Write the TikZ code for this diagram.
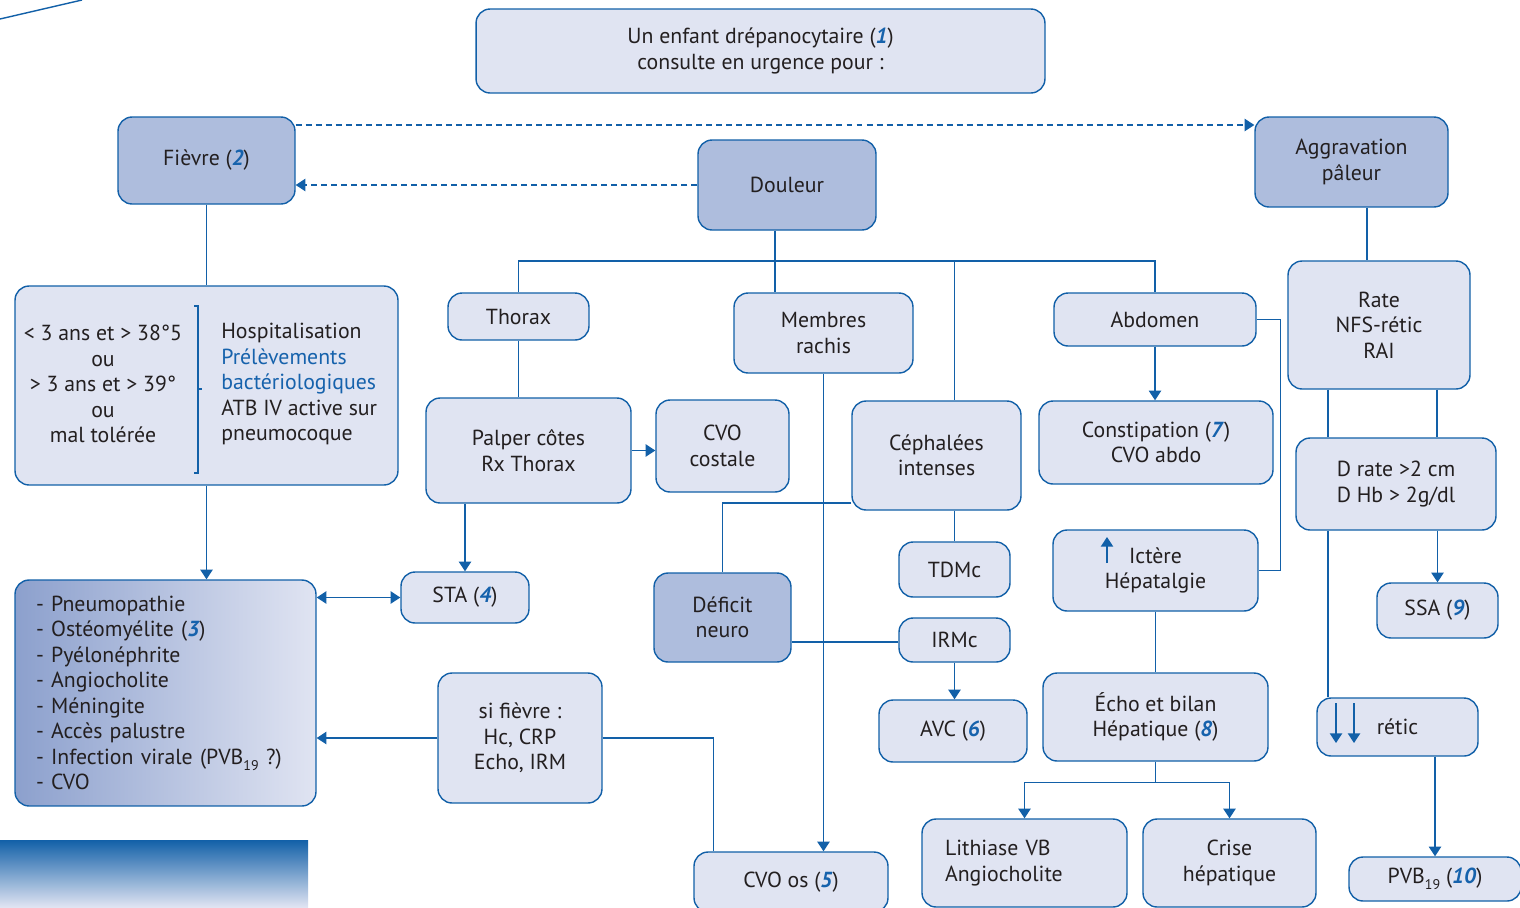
\documentclass[tikz,border=0pt]{standalone}
\usepackage{fontspec}
\setmainfont{PT Sans}
\usepackage{xcolor}
\usetikzlibrary{arrows.meta,calc,positioning}
\definecolor{lineblue}{RGB}{18,96,168}
\definecolor{lightfill}{RGB}{224,228,242}
\definecolor{darkfill}{RGB}{174,189,221}
\definecolor{gradL}{RGB}{140,160,205}
\definecolor{gradM}{RGB}{204,213,236}
\definecolor{textcol}{RGB}{35,31,32}
\definecolor{numblue}{RGB}{22,98,172}
\newcommand{\refn}[1]{\textcolor{numblue}{\textbf{\textit{#1}}}}
\newcommand{\lowsub}[1]{\raisebox{-0.55ex}{\fontsize{8}{8}\selectfont #1}}
\tikzset{
  >={Triangle[length=5.5pt,width=7pt]},
  box/.style  ={rectangle, rounded corners=8pt, draw=lineblue, line width=0.8pt,
                fill=lightfill, text=textcol, align=center, inner sep=2pt,
                font=\fontsize{12.4}{14.5}\selectfont},
  hub/.style  ={box, fill=darkfill},
  wh/.style 2 args={minimum width=#1cm, minimum height=#2cm},
  txt/.style  ={text=textcol, inner sep=0pt, align=left,
                font=\fontsize{12.4}{14.5}\selectfont},
  con/.style  ={draw, color=lineblue, line width=0.8pt},
  arr/.style  ={->, con},
  dsh/.style  ={->, con, dash pattern=on 3.4pt off 2.3pt},
}
\begin{document}
\begin{tikzpicture}[x=0.02cm, y=-0.02cm]
\clip (0,0) rectangle (1520,907);
\fill[white] (0,0) rectangle (1520,907);
\draw[con] (0,19) -- (82,0);
\shade[top color=lineblue, bottom color=lightfill] (0,840) rectangle (308,907);

% top row
\node[box, wh={11.38}{1.68}] (enfant) at (760.5,51)
  {Un enfant drépanocytaire (\refn{1})\\consulte en urgence pour :};
\node[hub, wh={3.54}{1.74}] (fievre)  at (206.5,160.5) {Fièvre (\refn{2})};
\node[hub, wh={3.56}{1.80}] (douleur) at (787,185)     {Douleur};
\node[hub, wh={3.86}{1.80}] (aggrav)  at (1351.5,162)  {Aggravation\\pâleur};

% fievre branch
\node[box, wh={7.66}{3.98}] (crit) at (206.5,385.5) {};
\node[txt, align=center] (critL) at (103,384)
  {< 3 ans et > 38°5\\ou\\> 3 ans et > 39°\\ou\\mal tolérée};
\node[txt, anchor=west] (critR) at (221,384)
  {Hospitalisation\\\textcolor{numblue}{Prélèvements}\\\textcolor{numblue}{bactériologiques}\\ATB IV active sur\\pneumocoque};
\draw[con, line width=0.6pt] (194,306) -- (198,306) -- (198,473) -- (194,473)
  (198,389) -- (202,389);
\node[box, wh={6.02}{4.52}, left color=gradL, middle color=gradM, right color=lightfill,
      align=left, text width=5.18cm, inner xsep=0.42cm] (infect) at (165.5,693)
  {- Pneumopathie\\- Ostéomyélite (\refn{3})\\- Pyélonéphrite\\- Angiocholite\\- Méningite\\- Accès palustre\\- Infection virale (PVB\lowsub{19} ?)\\- CVO};

% douleur branch
\node[box, wh={2.82}{0.94}] (thorax)  at (518.5,316.5) {Thorax};
\node[box, wh={3.58}{1.60}] (membres) at (823.5,333)   {Membres\\rachis};
\node[box, wh={4.04}{1.06}] (abdomen) at (1155,319.5)  {Abdomen};
\node[box, wh={4.10}{2.10}] (palper)  at (528.5,450.5) {Palper côtes\\Rx Thorax};
\node[box, wh={2.66}{1.84}] (costale) at (722.5,446)   {CVO\\costale};
\node[box, wh={3.38}{2.18}] (cephal)  at (936.5,455.5) {Céphalées\\intenses};
\node[box, wh={4.68}{1.66}] (constip) at (1156,442.5)  {Constipation (\refn{7})\\CVO abdo};
\node[box, wh={2.56}{1.02}] (sta)     at (465,597.5)   {STA (\refn{4})};
\node[hub, wh={2.74}{1.78}] (deficit) at (722.5,617.5) {Déficit\\neuro};
\node[box, wh={2.22}{1.10}] (tdmc)    at (954.5,569.5) {TDMc};
\node[box, wh={2.22}{0.88}] (irmc)    at (954.5,640)   {IRMc};
\node[box, wh={4.10}{1.62}] (ictere)  at (1155.5,570.5) {Ictère\\Hépatalgie};
\node[box, wh={3.28}{2.60}] (sifievre) at (520,738)    {si fièvre :\\Hc, CRP\\Echo, IRM};
\node[box, wh={2.96}{1.24}] (avc)     at (953,731)     {AVC (\refn{6})};
\node[box, wh={4.50}{1.76}] (echo)    at (1155.5,717)  {Écho et bilan\\Hépatique (\refn{8})};
\node[box, wh={3.88}{1.20}] (cvoos)   at (791,882)     {CVO os (\refn{5})};
\node[box, wh={4.10}{1.76}, align=left, text width=3.18cm, inner xsep=0.46cm]
  (lithiase) at (1024.5,863) {Lithiase VB\\Angiocholite};
\node[box, wh={3.46}{1.76}] (crise)   at (1229.5,863)  {Crise\\hépatique};

% pâleur branch
\node[box, wh={3.64}{2.56}] (rate)    at (1379,325)    {Rate\\NFS-rétic\\RAI};
\node[box, wh={4.00}{1.84}] (drate)   at (1396,484)    {D rate >2 cm\\D Hb > 2g/dl};
\node[box, wh={2.42}{1.10}] (ssa)     at (1437.5,610.5) {SSA (\refn{9})};
\node[box, wh={3.22}{1.16}] (retic)   at (1397.5,727)  {rétic};
\node[box, wh={3.44}{0.88}] (pvb)     at (1435,879)    {PVB\lowsub{19} (\refn{10})};

% arrows drawn inside boxes
\draw[arr] ($(ictere.center)+(-48.5,-7.5)$) -- ($(ictere.center)+(-48.5,-33.5)$);
\draw[arr] ($(retic.center)+(-61.5,-24)$) -- ($(retic.center)+(-61.5,16)$);
\draw[arr] ($(retic.center)+(-43.5,-24)$) -- ($(retic.center)+(-43.5,16)$);

% connectors
\draw[dsh] ($(fievre.east)+(0,-35.5)$) -- ($(aggrav.west)+(0,-37)$);
\draw[dsh] (douleur.west) -- (douleur.west -| fievre.east);
\draw[con] (fievre.south) -- (crit.north);
\draw[arr] (crit.south) -- (crit.south |- infect.north);
\draw[arr, <->] (sta.west) -- (sta.west -| infect.east);
\draw[arr] (sifievre.west) -- (sifievre.west -| infect.east);
\draw[con] (sifievre.east) -| ($(cvoos.north west)+(20,0)$);

\coordinate (bus) at (775,261);
\draw[con] (bus |- douleur.south) -- (bus |- membres.north);
\draw[con] (thorax.north) |- (bus) -| (abdomen.north);
\draw[con] (bus -| tdmc.north) -- (tdmc.north |- cephal.north);
\draw[con] (thorax.south) -- (thorax.south |- palper.north);
\draw[arr] (palper.east) -- (palper.east -| costale.west);
\draw[arr] (sta.north |- palper.south) -- (sta.north);
\draw[arr] (membres.south) -- (membres.south |- cvoos.north);
\draw[con] ($(cephal.west)+(0,47.5)$) -| (deficit.north);
\draw[con] (tdmc.north |- cephal.south) -- (tdmc.north);
\draw[con] ($(deficit.east)+(0,24.5)$) coordinate (dn) -- (dn -| irmc.west);
\draw[arr] (irmc.south) -- (irmc.south |- avc.north);
\draw[arr] (abdomen.south) -- (abdomen.south |- constip.north);
\draw[con] (abdomen.east) -- ++(24,0) |- (ictere.east);
\draw[con] (ictere.south) -- (ictere.south |- echo.north);
\draw[con] (echo.south) -- ++(0,21) coordinate (eb);
\draw[arr] (eb) -| (lithiase.north);
\draw[arr] (eb) -| (crise.north);

\draw[con] ($(aggrav.south)+(15.5,0)$) coordinate (ag) -- (ag |- rate.north);
\draw[con] ($(rate.south)+(-51,0)$) coordinate (r1) -- (r1 |- drate.north);
\draw[con] ($(rate.south)+(58,0)$) coordinate (r2) -- (r2 |- drate.north);
\draw[con] (r1 |- drate.south) -- (r1 |- retic.north);
\draw[arr] (ssa.north |- drate.south) -- (ssa.north);
\draw[arr] (pvb.north |- retic.south) -- (pvb.north);
\end{tikzpicture}
\end{document}
